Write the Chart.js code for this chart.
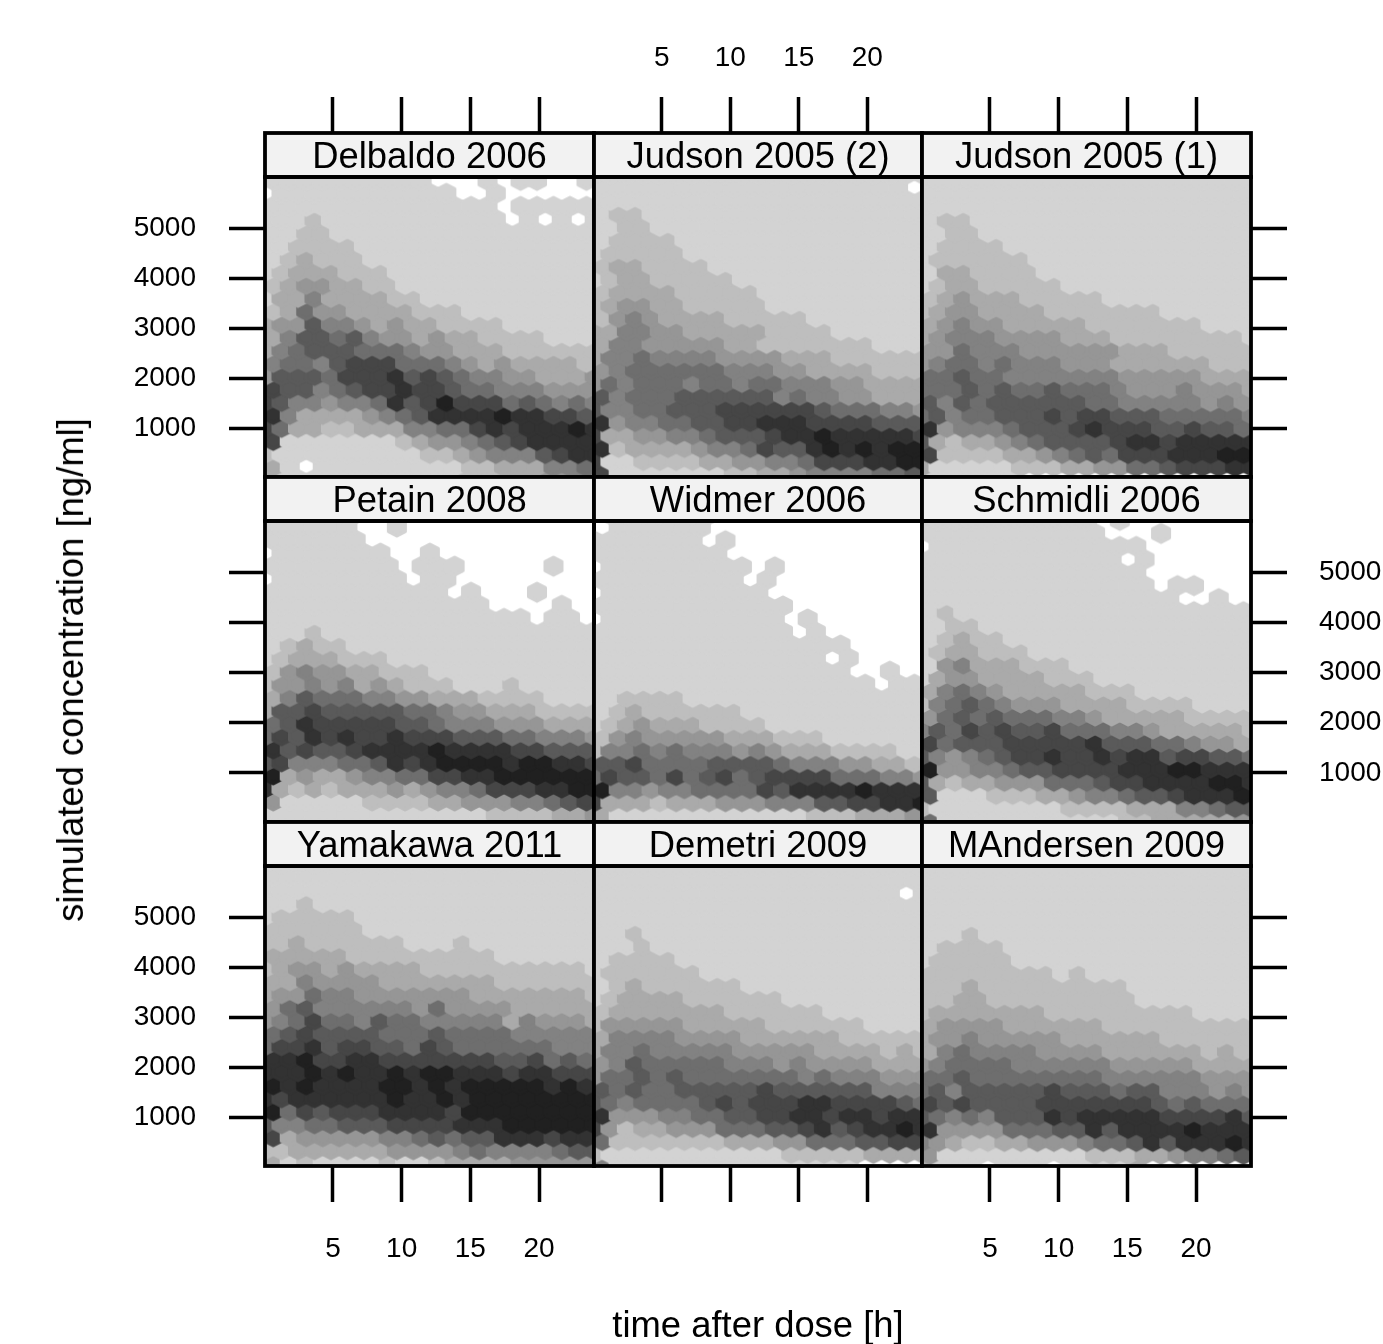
<!DOCTYPE html>
<html lang="en">
<head>
<meta charset="UTF-8">
<title>Simulated concentration hexbin panels</title>
<script src="https://cdn.jsdelivr.net/npm/chart.js@4/dist/chart.umd.min.js"></script>
<style>
    html, body { margin: 0; padding: 0; background: #fff; width: 1383px; height: 1344px; overflow: hidden; }
    canvas { position: absolute; left: 0; top: 0; }
    .axis-name { position: absolute; font: 36.4px "Liberation Sans", Arial, sans-serif; color: #000; white-space: nowrap; }
    #xname { left: 758px; top: 1304px; transform: translateX(-50%); }
    #yname { left: 71px; top: 670px; transform: translate(-50%, -50%) rotate(-90deg); }
</style>
</head>
<body>
<div id="panels"></div>
<div class="axis-name" id="xname">time after dose [h]</div>
<div class="axis-name" id="yname">simulated concentration [ng/ml]</div>
<script>
// tick values
var timeTicks = [5, 10, 15, 20]
var concTicks = [1000, 2000, 3000, 4000, 5000]

// panel titles, left to right, top to bottom
var panelNames = [
    'Delbaldo 2006', 'Judson 2005 (2)', 'Judson 2005 (1)',
    'Petain 2008', 'Widmer 2006', 'Schmidli 2006',
    'Yamakawa 2011', 'Demetri 2009', 'MAndersen 2009'
]

// concentration of the first hexagon row of each panel
var firstRowConc = [5953, 6333, 6213, 6160, 6407, 6293, 6327, 6253, 5973]

// hexbin cells, one string per row from the top.
// '.' is an empty cell, 1-9 and a go from lightest to darkest, cells left out at the end of a row are level 1
var delbaldo = [
    "1111111111...1.11..1", ".11111111111..1......", "11111111111111.11111", "111211111111111.1.1.1",
    "1122", "112222", "123222", "12333222", "23443322", "1335333322", "236443333222",
    "344755434332222", "35776754434332222", "356777666544333222222", "56657888666543433332",
    "477768889787655443334", "87756788988766555444", "87554556978a888676565", "95333345679999a99887",
    "8633223335566898999a9", "81111111234456789999", "211111111122345557899", "31.11111111122333556",
    "311111111111222334455"
]
var judson2 = [
    "", "", "1111111111111111111.", "", "122", "1122", "12222", "122222", "2332222", "123322222",
    "2333322222", "23443322222", "2454333322222", "335544333332222", "35544444332222222",
    "355655554444333222222", "45666666555443333222", "465666566566555443333", "75666777777565544333",
    "755667778888887666554", "94556677889998888777", "83344556777899a999998", "92333345568779a9a9aa",
    "8112222334455688899aa", "81111111223345555667"
]
var judson1 = [
    "", "", "", "", "122", "1122", "12222", "1222222", "1332222", "123322222", "23433322222",
    "234433332222222", "34544333332222222", "345554444333222222221", "44655544444433322222",
    "456656555444333333222", "66766555555544444333", "666767667666544454443", "75767777776655555454",
    "675667778788777666665", "94555677789888778776", "732334567777899899999", "822223345676888999aa",
    "311111222334466788899", "111111.............."
]
var petain = [
    "111111..............", "111111..1............", "111111..............", ".1111111..1..........",
    "11111111.111.....1..", ".11111111.11.........", "11111111111.1...1...", "11111111111111....1..",
    "1111111111111111.11.", "1112", "12322", "12333222", "2454433222", "24454534322211121",
    "35766655443332222111", "377877777665443332222", "67988888776555444333", "687989889888777665554",
    "9787789999a999988777", "78555667989aaaa9aa998", "a3433455668899aaaaaa", "9323233343455688899aa",
    "41111122223344455678", "111111111111112222334"
]
var widmer = [
    "....................", ".1111111.............", ".111111.............", "1111111.1............",
    "11111111............", ".111111111.1.........", "111111111.1.........", ".1111111111..........",
    "111111111111........", ".11111111111.1.......", "111111111111.1......", "1111111111111111.....",
    "11111111111111.1....", "1111111111111111..1..", "11111111111111111.11", "112222", "123222222",
    "12343332222", "24544444333222", "255656555454333222211", "77866667777655544332",
    "687768678678888666554", "a554556666879999a999", "833323334445557788 99aa".replace(' ', '').slice(0, 21),
    "31111111111112223334"
]
var schmidli = [
    "", "11111111111.1........", "11111111111...1.....", ".1111111111111.......", "111111111111.1......",
    "11111111111111.......", "11111111111111.11...", "1111111111111111..1..", "12", "1122", "12322",
    "1233222", "145333222", "13443333222", "3565433333222", "25676544433332222",
    "46767666554333332222", "576878778666554333332", "86777888889777665443", "754567889889899788776",
    "a44556778888999aa999", "732334446667889999aa9", "7111222334556778999a",
    "211111111222233355677", "61111111111122333334"
]
var yamakawa = [
    "", "", "", "", "112", "122222", "222222", "223222222111211111111", "33333222222222",
    "234434333322222222221", "33544443333333222222", "344655444444433333332", "46755555546444433333",
    "456866576655555354443", "67877776667666655555", "688978877687666666555", "99a88998888888778676",
    "999a9a99a9aa999899888", "a9a9999aa9a9aaaaa9a9", "98999999a99a9aaaaaaaa", "a68788899998aaaaaaaa",
    "755667778888999aaaaaa", "83444445567677999899", "223333334444565555677", "31211112112333344444"
]
var demetri = [
    "", "", "", "1111111111111111111.1", "", "", "112", "1112", "12222", "1222222", "123222222",
    "123333222222", "23333333222222", "24444433333222222", "35555444433333322222",
    "355655555444443333232", "45766666555454444333", "466767666666656555444", "76766777778777777555",
    "765666678788899888876", "94445566778899899899", "8423344466677897899a9", "62222222333446667788",
    "211111111111222223333", "5111111111111111...."
]
var mandersen = [
    "", "", "", "", "", "1112", "12222", "122222", "2222222212", "2223222222222", "2233222222222",
    "23333333222222222", "34444333333222222222", "344544444333333222222", "35655554444333333232",
    "456666555555444443333", "66766666666555555444", "675777778777677555454", "87877778888888767666",
    "765657779899999888897", "9444466677979999a999", "5432233444566797999a9", "41111111112223345567",
    "3111.111.11113......."
]
var panelCells = [delbaldo, judson2, judson1, petain, widmer, schmidli, yamakawa, demetri, mandersen]

// bin sizes of the hexbin grid
var binHours = 1.2
var binConc = 260
var cellsPerRow = 20

var timeMin = 0.05, timeMax = 24
var concMin = 20, concMax = 6020

// greys for the levels
var greys = [211, 190, 170, 150, 130, 110, 90, 70, 50, 32]

// page layout
var pageW = 1383, pageH = 1344
var colEdges = [265, 594, 922, 1251]
var rowTops = [177, 521, 866]
var rowBottoms = [477, 822, 1166]
var stripH = 44
var topAxisH = 100, bottomAxisH = 100, leftAxisW = 135, rightAxisW = 132
var fontName = '"Liberation Sans", Arial, sans-serif'

// one hexagon picture per level, the outline makes them overlap a bit like the original
function makeHex(grey) {
    var c = document.createElement('canvas')
    c.width = 28
    c.height = 28
    var g = c.getContext('2d')
    var w = 8.235, h = 8.67
    g.translate(14, 14)
    g.beginPath()
    g.moveTo(0, -h)
    g.lineTo(w, -h / 2)
    g.lineTo(w, h / 2)
    g.lineTo(0, h)
    g.lineTo(-w, h / 2)
    g.lineTo(-w, -h / 2)
    g.closePath()
    var col = 'rgb(' + grey + ',' + grey + ',' + grey + ')'
    g.fillStyle = col
    g.strokeStyle = col
    g.lineWidth = 3.6
    g.lineJoin = 'round'
    g.fill()
    g.stroke()
    return c
}
var hexes = greys.map(makeHex)

function buildPoints(rows, firstConc) {
    var pts = []
    // bottom row first, upper rows are painted over lower ones
    for (var k = rows.length - 1; k >= 0; k--) {
        var odd = k % 2 == 1
        var n = odd ? cellsPerRow + 1 : cellsPerRow
        for (var c = 0; c < n; c++) {
            var ch = c < rows[k].length ? rows[k][c] : '1'
            if (ch == '.') continue
            pts.push({
                x: timeMin + (odd ? c : c + 0.5) * binHours,
                y: firstConc - k * binConc,
                level: parseInt(ch, 16)
            })
        }
    }
    return pts
}

// strip background under the title and the black frames
var framePlugin = {
    id: 'frames',
    beforeDraw: function (chart) {
        var a = chart.chartArea, ctx = chart.ctx
        ctx.save()
        ctx.fillStyle = '#f2f2f2'
        ctx.fillRect(a.left, a.top - stripH, a.right - a.left, stripH)
        ctx.restore()
    },
    afterDraw: function (chart) {
        var a = chart.chartArea, ctx = chart.ctx
        ctx.save()
        ctx.strokeStyle = '#000'
        ctx.lineWidth = 3.8
        ctx.strokeRect(a.left, a.top, a.right - a.left, a.bottom - a.top)
        ctx.strokeRect(a.left, a.top - stripH, a.right - a.left, stripH)
        ctx.restore()
    }
}

function tickFont() {
    return { family: fontName, size: 28 }
}

function plainLabel(v) {
    return String(v)
}

function makePanel(i) {
    var col = i % 3, row = Math.floor(i / 3)
    var canvas = document.createElement('canvas')
    canvas.width = pageW
    canvas.height = pageH
    document.getElementById('panels').appendChild(canvas)

    var hasTop = row == 0, hasBottom = row == 2
    var hasLeft = col == 0, hasRight = col == 2
    // tick labels alternate between the sides, lattice style
    var xLabels = hasTop ? col == 1 : col != 1
    var yLabels = hasLeft ? row != 1 : row == 1

    return new Chart(canvas.getContext('2d'), {
        type: 'scatter',
        data: {
            datasets: [{
                label: panelNames[i],
                data: buildPoints(panelCells[i], firstRowConc[i]),
                pointRadius: 13,
                pointStyle: function (ctx) {
                    return ctx.raw ? hexes[ctx.raw.level - 1] : 'circle'
                }
            }]
        },
        options: {
            responsive: false,
            animation: false,
            devicePixelRatio: 1,
            events: [],
            layout: {
                padding: {
                    left: colEdges[col] - (hasLeft ? leftAxisW : 0),
                    right: pageW - colEdges[col + 1] - (hasRight ? rightAxisW : 0),
                    top: rowTops[row] - stripH - (hasTop ? topAxisH : 0),
                    bottom: pageH - rowBottoms[row] - (hasBottom ? bottomAxisH : 0)
                }
            },
            plugins: {
                legend: { display: false },
                tooltip: { enabled: false },
                title: {
                    display: true,
                    text: panelNames[i],
                    color: '#000',
                    weight: -1,
                    fullSize: false,
                    padding: { top: 6, bottom: 0 },
                    font: { family: fontName, size: 36.4, weight: 'normal', lineHeight: (stripH - 6) / 36.4 }
                }
            },
            scales: {
                x: {
                    type: 'linear',
                    display: hasTop || hasBottom,
                    position: hasTop ? 'top' : 'bottom',
                    min: timeMin,
                    max: timeMax,
                    border: { display: false },
                    grid: { drawOnChartArea: false, drawTicks: true, tickLength: 36, tickWidth: 3.5, tickColor: '#000' },
                    ticks: {
                        display: xLabels,
                        color: '#000',
                        font: tickFont(),
                        padding: hasTop ? 22 : 30,
                        autoSkip: false,
                        maxRotation: 0,
                        callback: plainLabel
                    },
                    afterBuildTicks: function (s) {
                        s.ticks = timeTicks.map(function (v) { return { value: v } })
                    },
                    afterFit: function (s) {
                        if (hasTop || hasBottom) s.height = hasTop ? topAxisH : bottomAxisH
                    }
                },
                y: {
                    type: 'linear',
                    display: hasLeft || hasRight,
                    position: hasLeft ? 'left' : 'right',
                    min: concMin,
                    max: concMax,
                    border: { display: false },
                    grid: { drawOnChartArea: false, drawTicks: true, tickLength: 36, tickWidth: 3.5, tickColor: '#000' },
                    ticks: {
                        display: yLabels,
                        color: '#000',
                        font: tickFont(),
                        padding: hasLeft ? 33 : 32,
                        autoSkip: false,
                        callback: plainLabel
                    },
                    afterBuildTicks: function (s) {
                        s.ticks = concTicks.map(function (v) { return { value: v } })
                    },
                    afterFit: function (s) {
                        if (hasLeft || hasRight) s.width = hasLeft ? leftAxisW : rightAxisW
                    }
                }
            }
        },
        plugins: [framePlugin]
    })
}

for (var i = 0; i < panelNames.length; i++) {
    makePanel(i)
}
</script>
</body>
</html>
